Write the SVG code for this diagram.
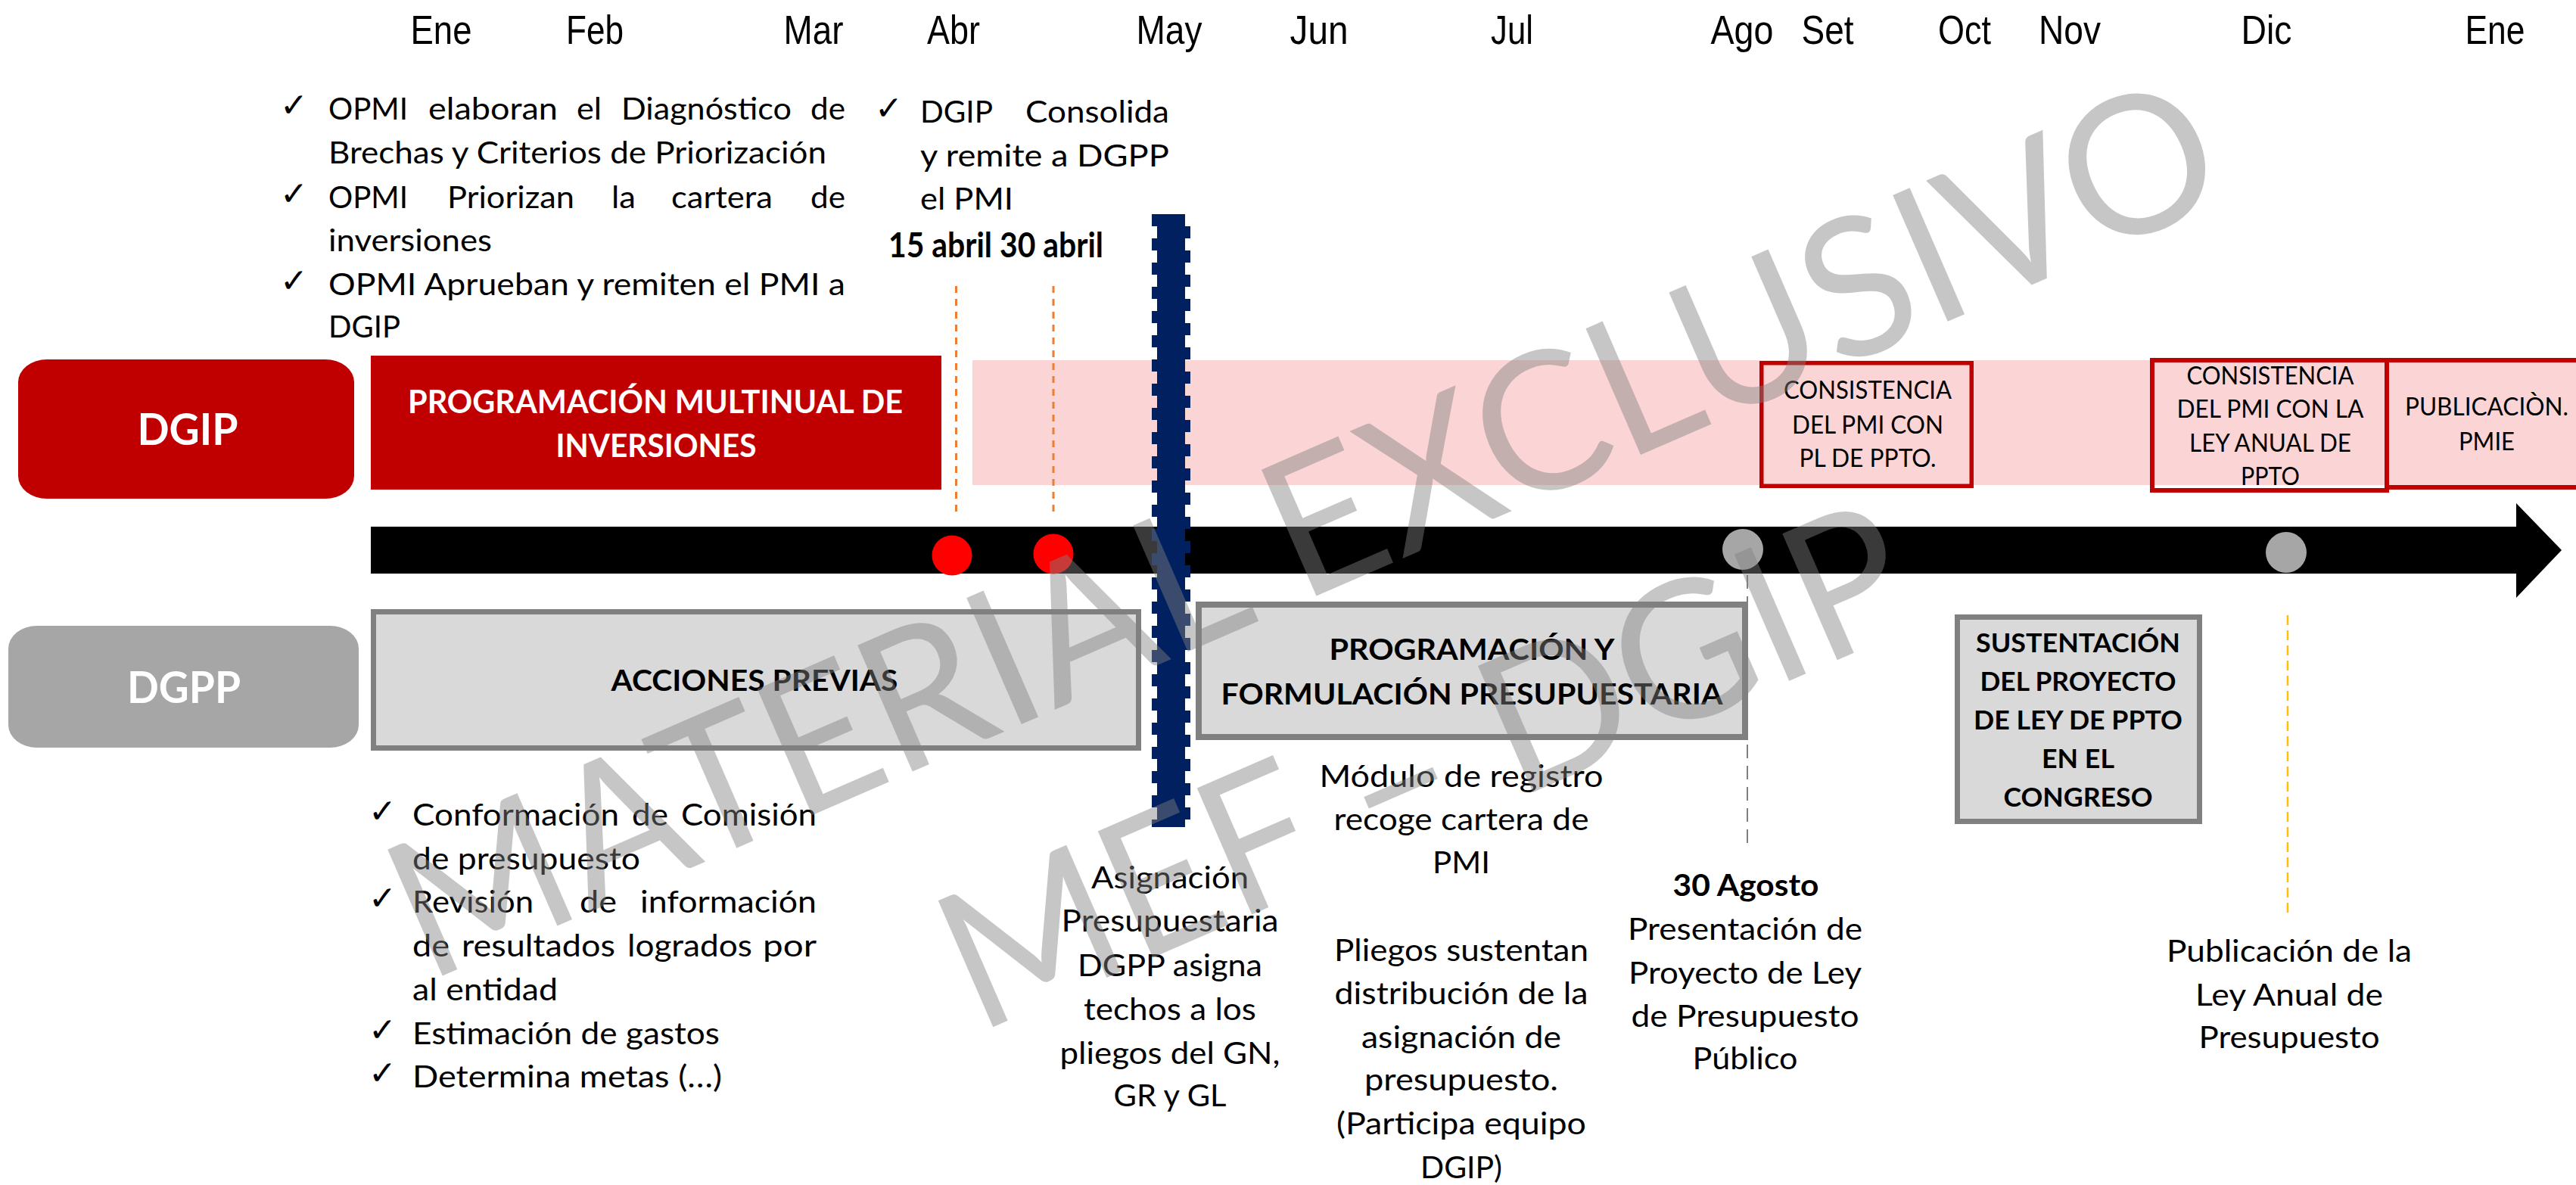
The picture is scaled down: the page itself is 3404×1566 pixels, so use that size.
<svg xmlns="http://www.w3.org/2000/svg" width="3404" height="1566" viewBox="0 0 3404 1566">
<defs>
<style>
.t{font-family:Lato,"Open Sans","Liberation Sans",sans-serif;font-size:40px;fill:#000}
.c{text-anchor:middle}
.b{font-weight:bold}
.w{fill:#fff}
.mo{font-family:"Liberation Sans",Arial,sans-serif;font-size:53px;fill:#000;text-anchor:middle}
.ck{font-family:"DejaVu Sans",sans-serif;font-size:44px;font-weight:bold;fill:#000}
.cs{font-family:Lato,"Open Sans",sans-serif;font-size:32px;fill:#000;text-anchor:middle}
.gb{fill:#D9D9D9;stroke:#808080}
.rb{fill:none;stroke:#C00000}
.wm{font-family:Lato,"Open Sans",sans-serif;font-size:254px;fill:#808080;fill-opacity:0.45;text-anchor:middle}
</style>
</defs>
<rect width="3404" height="1566" fill="#fff"/>

<g id="months">
<text class="mo" x="583" y="58" textLength="81" lengthAdjust="spacingAndGlyphs">Ene</text>
<text class="mo" x="786" y="58" textLength="76" lengthAdjust="spacingAndGlyphs">Feb</text>
<text class="mo" x="1075" y="58" textLength="79" lengthAdjust="spacingAndGlyphs">Mar</text>
<text class="mo" x="1260" y="58" textLength="70" lengthAdjust="spacingAndGlyphs">Abr</text>
<text class="mo" x="1545" y="58" textLength="87" lengthAdjust="spacingAndGlyphs">May</text>
<text class="mo" x="1743" y="58" textLength="77" lengthAdjust="spacingAndGlyphs">Jun</text>
<text class="mo" x="1998" y="58" textLength="56" lengthAdjust="spacingAndGlyphs">Jul</text>
<text class="mo" x="2302" y="58" textLength="83" lengthAdjust="spacingAndGlyphs">Ago</text>
<text class="mo" x="2415" y="58" textLength="69" lengthAdjust="spacingAndGlyphs">Set</text>
<text class="mo" x="2596" y="58" textLength="70" lengthAdjust="spacingAndGlyphs">Oct</text>
<text class="mo" x="2735" y="58" textLength="82" lengthAdjust="spacingAndGlyphs">Nov</text>
<text class="mo" x="2995" y="58" textLength="67" lengthAdjust="spacingAndGlyphs">Dic</text>
<text class="mo" x="3297" y="58" textLength="79" lengthAdjust="spacingAndGlyphs">Ene</text>
</g>

<rect id="band-dgip" x="1285" y="476" width="2119" height="165" fill="#FBD5D5"/>

<g id="node-dgip-label">
<rect x="24" y="475" width="444" height="184" rx="38" ry="30" fill="#C00000"/>
<text class="t c b w" x="248" y="588" style="font-size:57px" textLength="133" lengthAdjust="spacingAndGlyphs">DGIP</text>
</g>
<g id="node-dgpp-label">
<rect x="11" y="827" width="463" height="161" rx="38" ry="30" fill="#A6A6A6"/>
<text class="t c b w" x="243" y="929" style="font-size:57px" textLength="150" lengthAdjust="spacingAndGlyphs">DGPP</text>
</g>

<g id="node-pmi">
<rect x="490" y="470" width="754" height="177" fill="#C00000"/>
<text class="t c b w" x="866" y="546" style="font-size:42px" textLength="654" lengthAdjust="spacingAndGlyphs">PROGRAMACIÓN MULTINUAL DE</text>
<text class="t c b w" x="867" y="604" style="font-size:42px" textLength="265" lengthAdjust="spacingAndGlyphs">INVERSIONES</text>
</g>

<g id="node-consistencia-pl">
<rect class="rb" x="2327.75" y="479.75" width="277.5" height="162.5" stroke-width="5.5"/>
<text class="cs" x="2468" y="527" textLength="222" lengthAdjust="spacingAndGlyphs">CONSISTENCIA</text>
<text class="cs" x="2468" y="573" textLength="200" lengthAdjust="spacingAndGlyphs">DEL PMI CON</text>
<text class="cs" x="2468" y="617" textLength="181" lengthAdjust="spacingAndGlyphs">PL DE PPTO.</text>
</g>
<g id="node-consistencia-ley">
<rect class="rb" x="2844" y="476" width="310" height="172" stroke-width="6"/>
<text class="cs" x="3000" y="508" textLength="221" lengthAdjust="spacingAndGlyphs">CONSISTENCIA</text>
<text class="cs" x="3000" y="552" textLength="247" lengthAdjust="spacingAndGlyphs">DEL PMI CON LA</text>
<text class="cs" x="3000" y="597" textLength="214" lengthAdjust="spacingAndGlyphs">LEY ANUAL DE</text>
<text class="cs" x="3000" y="641" textLength="78" lengthAdjust="spacingAndGlyphs">PPTO</text>
</g>
<g id="node-publicacion-pmie">
<rect class="rb" x="3154" y="476" width="270" height="168" stroke-width="6"/>
<text class="cs" x="3286" y="549" textLength="216" lengthAdjust="spacingAndGlyphs">PUBLICACIÒN.</text>
<text class="cs" x="3286" y="595" textLength="74" lengthAdjust="spacingAndGlyphs">PMIE</text>
</g>

<g id="connectors" fill="none">
<line x1="1263.5" y1="378" x2="1263.5" y2="676" stroke="#ED7D31" stroke-width="3" stroke-dasharray="9 8"/>
<line x1="1392" y1="378" x2="1392" y2="676" stroke="#ED7D31" stroke-width="3" stroke-dasharray="9 8"/>
<line x1="2309" y1="760" x2="2309" y2="1118" stroke="#808080" stroke-width="2" stroke-dasharray="18 10"/>
<line x1="3023" y1="813" x2="3023" y2="1212" stroke="#FFC000" stroke-width="2.5" stroke-dasharray="13 7"/>
</g>

<g id="timeline">
<polygon points="490,696 3325,696 3325,665 3385,727 3325,790 3325,758 490,758" fill="#000"/>
<circle cx="1258" cy="734" r="26.5" fill="#FF0000"/>
<circle cx="1392" cy="732" r="26.5" fill="#FF0000"/>
<circle cx="2303" cy="726" r="27" fill="#A6A6A6"/>
<circle cx="3021" cy="730" r="27" fill="#A6A6A6"/>
</g>

<g id="divider-may">
<rect x="1529" y="283" width="37" height="810" fill="#002060"/>
<line x1="1525.5" y1="283" x2="1525.5" y2="1093" stroke="#002060" stroke-width="7" stroke-dasharray="16 16"/>
<line x1="1569.5" y1="283" x2="1569.5" y2="1093" stroke="#002060" stroke-width="7" stroke-dasharray="16 16" stroke-dashoffset="16"/>
</g>

<g id="node-acciones">
<rect class="gb" x="493.5" y="808.5" width="1011" height="180" stroke-width="7"/>
<text class="t c b" x="997" y="913" style="font-size:38px" textLength="379" lengthAdjust="spacingAndGlyphs">ACCIONES PREVIAS</text>
</g>
<g id="node-programacion">
<rect class="gb" x="1584" y="799" width="722" height="175" stroke-width="8"/>
<text class="t c b" x="1945" y="872" style="font-size:38px" textLength="377" lengthAdjust="spacingAndGlyphs">PROGRAMACIÓN Y</text>
<text class="t c b" x="1945" y="931" style="font-size:38px" textLength="663" lengthAdjust="spacingAndGlyphs">FORMULACIÓN PRESUPUESTARIA</text>
</g>
<g id="node-sustentacion">
<rect class="gb" x="2586.5" y="815.5" width="320" height="270" stroke-width="7"/>
<text class="t c b" x="2746" y="862" style="font-size:34px" textLength="270" lengthAdjust="spacingAndGlyphs">SUSTENTACIÓN</text>
<text class="t c b" x="2746" y="913" style="font-size:34px" textLength="259" lengthAdjust="spacingAndGlyphs">DEL PROYECTO</text>
<text class="t c b" x="2746" y="964" style="font-size:34px" textLength="276" lengthAdjust="spacingAndGlyphs">DE LEY DE PPTO</text>
<text class="t c b" x="2746" y="1015" style="font-size:34px" textLength="96" lengthAdjust="spacingAndGlyphs">EN EL</text>
<text class="t c b" x="2746" y="1066" style="font-size:34px" textLength="197" lengthAdjust="spacingAndGlyphs">CONGRESO</text>
</g>

<g id="note-opmi">
<text class="ck" x="370" y="154">✓</text>
<text class="ck" x="370" y="271">✓</text>
<text class="ck" x="370" y="386">✓</text>
<text class="t" x="434" y="158" textLength="105" lengthAdjust="spacingAndGlyphs">OPMI</text>
<text class="t" x="566" y="158" textLength="171" lengthAdjust="spacingAndGlyphs">elaboran</text>
<text class="t" x="762" y="158" textLength="33" lengthAdjust="spacingAndGlyphs">el</text>
<text class="t" x="821" y="158" textLength="225" lengthAdjust="spacingAndGlyphs">Diagnóstico</text>
<text class="t" x="1071" y="158" textLength="46" lengthAdjust="spacingAndGlyphs">de</text>
<text class="t" x="434" y="216" textLength="658" lengthAdjust="spacingAndGlyphs">Brechas y Criterios de Priorización</text>
<text class="t" x="434" y="275" textLength="105" lengthAdjust="spacingAndGlyphs">OPMI</text>
<text class="t" x="591" y="275" textLength="168" lengthAdjust="spacingAndGlyphs">Priorizan</text>
<text class="t" x="808" y="275" textLength="32" lengthAdjust="spacingAndGlyphs">la</text>
<text class="t" x="887" y="275" textLength="134" lengthAdjust="spacingAndGlyphs">cartera</text>
<text class="t" x="1071" y="275" textLength="46" lengthAdjust="spacingAndGlyphs">de</text>
<text class="t" x="434" y="332" textLength="216" lengthAdjust="spacingAndGlyphs">inversiones</text>
<text class="t" x="434" y="390" textLength="683" lengthAdjust="spacingAndGlyphs">OPMI Aprueban y remiten el PMI a</text>
<text class="t" x="434" y="446" textLength="95" lengthAdjust="spacingAndGlyphs">DGIP</text>
</g>

<g id="note-consolida">
<text class="ck" x="1156" y="158">✓</text>
<text class="t" x="1216" y="162" textLength="96" lengthAdjust="spacingAndGlyphs">DGIP</text>
<text class="t" x="1355" y="162" textLength="190" lengthAdjust="spacingAndGlyphs">Consolida</text>
<text class="t" x="1216" y="220" textLength="329" lengthAdjust="spacingAndGlyphs">y remite a DGPP</text>
<text class="t" x="1216" y="277" textLength="123" lengthAdjust="spacingAndGlyphs">el PMI</text>
<text class="t b" x="1174" y="340" style="font-size:45px" textLength="284" lengthAdjust="spacingAndGlyphs">15 abril 30 abril</text>
</g>

<g id="note-acciones">
<text class="ck" x="487" y="1087">✓</text>
<text class="ck" x="487" y="1202">✓</text>
<text class="ck" x="487" y="1376">✓</text>
<text class="ck" x="487" y="1433">✓</text>
<text class="t" x="545" y="1091" textLength="273" lengthAdjust="spacingAndGlyphs">Conformación</text>
<text class="t" x="835" y="1091" textLength="48" lengthAdjust="spacingAndGlyphs">de</text>
<text class="t" x="900" y="1091" textLength="179" lengthAdjust="spacingAndGlyphs">Comisión</text>
<text class="t" x="545" y="1149" textLength="301" lengthAdjust="spacingAndGlyphs">de presupuesto</text>
<text class="t" x="545" y="1206" textLength="160" lengthAdjust="spacingAndGlyphs">Revisión</text>
<text class="t" x="766" y="1206" textLength="49" lengthAdjust="spacingAndGlyphs">de</text>
<text class="t" x="846" y="1206" textLength="233" lengthAdjust="spacingAndGlyphs">información</text>
<text class="t" x="545" y="1264" textLength="49" lengthAdjust="spacingAndGlyphs">de</text>
<text class="t" x="610" y="1264" textLength="203" lengthAdjust="spacingAndGlyphs">resultados</text>
<text class="t" x="829" y="1264" textLength="165" lengthAdjust="spacingAndGlyphs">logrados</text>
<text class="t" x="1008" y="1264" textLength="71" lengthAdjust="spacingAndGlyphs">por</text>
<text class="t" x="545" y="1322" textLength="192" lengthAdjust="spacingAndGlyphs">al entidad</text>
<text class="t" x="545" y="1380" textLength="406" lengthAdjust="spacingAndGlyphs">Estimación de gastos</text>
<text class="t" x="545" y="1437" textLength="409" lengthAdjust="spacingAndGlyphs">Determina metas (…)</text>
</g>

<g id="note-asignacion">
<text class="t c" x="1546" y="1174" textLength="208" lengthAdjust="spacingAndGlyphs">Asignación</text>
<text class="t c" x="1546" y="1231" textLength="287" lengthAdjust="spacingAndGlyphs">Presupuestaria</text>
<text class="t c" x="1546" y="1290" textLength="244" lengthAdjust="spacingAndGlyphs">DGPP asigna</text>
<text class="t c" x="1546" y="1348" textLength="228" lengthAdjust="spacingAndGlyphs">techos a los</text>
<text class="t c" x="1546" y="1406" textLength="291" lengthAdjust="spacingAndGlyphs">pliegos del GN,</text>
<text class="t c" x="1546" y="1462" textLength="149" lengthAdjust="spacingAndGlyphs">GR y GL</text>
</g>

<g id="note-modulo">
<text class="t c" x="1931" y="1040" textLength="375" lengthAdjust="spacingAndGlyphs">Módulo de registro</text>
<text class="t c" x="1931" y="1097" textLength="337" lengthAdjust="spacingAndGlyphs">recoge cartera de</text>
<text class="t c" x="1931" y="1154" textLength="76" lengthAdjust="spacingAndGlyphs">PMI</text>
<text class="t c" x="1931" y="1270" textLength="336" lengthAdjust="spacingAndGlyphs">Pliegos sustentan</text>
<text class="t c" x="1931" y="1327" textLength="335" lengthAdjust="spacingAndGlyphs">distribución de la</text>
<text class="t c" x="1931" y="1385" textLength="264" lengthAdjust="spacingAndGlyphs">asignación de</text>
<text class="t c" x="1931" y="1441" textLength="256" lengthAdjust="spacingAndGlyphs">presupuesto.</text>
<text class="t c" x="1931" y="1499" textLength="330" lengthAdjust="spacingAndGlyphs">(Participa equipo</text>
<text class="t c" x="1931" y="1557" textLength="108" lengthAdjust="spacingAndGlyphs">DGIP)</text>
</g>

<g id="note-agosto">
<text class="t c b" x="2307" y="1184" textLength="193" lengthAdjust="spacingAndGlyphs">30 Agosto</text>
<text class="t c" x="2306" y="1242" textLength="310" lengthAdjust="spacingAndGlyphs">Presentación de</text>
<text class="t c" x="2306" y="1300" textLength="308" lengthAdjust="spacingAndGlyphs">Proyecto de Ley</text>
<text class="t c" x="2306" y="1357" textLength="301" lengthAdjust="spacingAndGlyphs">de Presupuesto</text>
<text class="t c" x="2306" y="1413" textLength="139" lengthAdjust="spacingAndGlyphs">Público</text>
</g>

<g id="note-publicacion">
<text class="t c" x="3025" y="1271" textLength="324" lengthAdjust="spacingAndGlyphs">Publicación de la</text>
<text class="t c" x="3025" y="1329" textLength="248" lengthAdjust="spacingAndGlyphs">Ley Anual de</text>
<text class="t c" x="3025" y="1385" textLength="239" lengthAdjust="spacingAndGlyphs">Presupuesto</text>
</g>

<g id="watermark" transform="translate(557,1293) rotate(-23.5)">
<text class="wm" x="1306" y="8" textLength="2604" lengthAdjust="spacingAndGlyphs">MATERIAL EXCLUSIVO</text>
<text class="wm" x="1327" y="360" textLength="1365" lengthAdjust="spacingAndGlyphs">MEF – DGIP</text>
</g>
</svg>
